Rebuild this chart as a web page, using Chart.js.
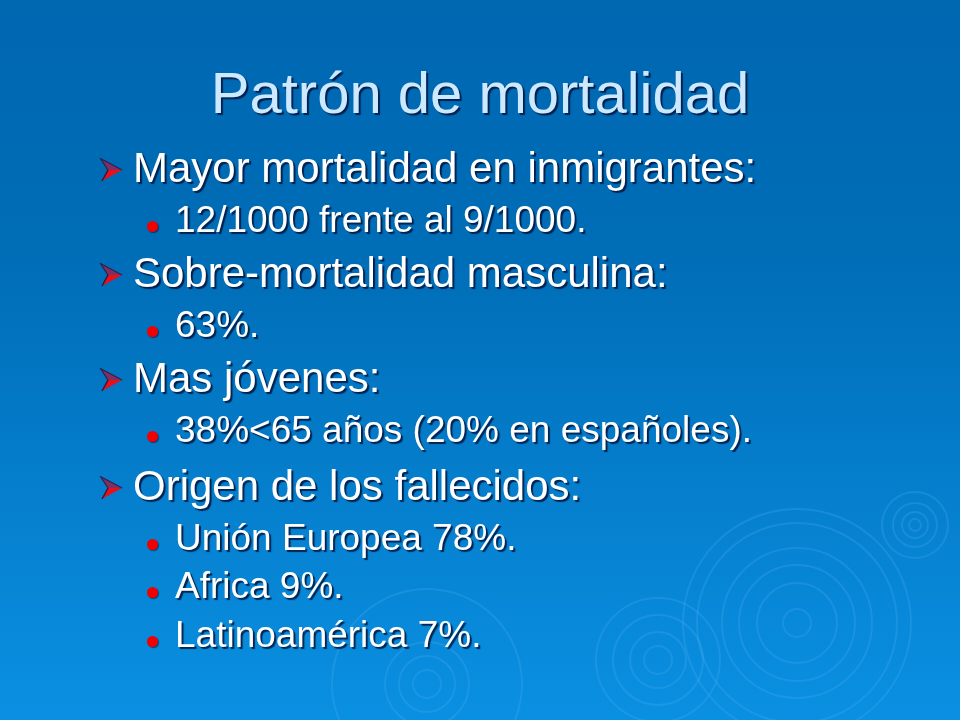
<!DOCTYPE html>
<html>
<head>
<meta charset="utf-8">
<script src="https://cdn.jsdelivr.net/npm/chart.js@4.4.1/dist/chart.umd.min.js"></script>
<style>
  html, body { margin: 0; padding: 0; }
  body { width: 960px; height: 720px; overflow: hidden; position: relative; font-family: "Liberation Sans", Arial, sans-serif; }
  #bg { position: absolute; left: 0; top: 0; width: 960px; height: 720px; }
  .txt { position: absolute; white-space: nowrap; color: #fff; line-height: 1; text-shadow: 2px 2px 1px rgba(0,20,60,0.85); }
  .title { left: 0; width: 960px; text-align: center; font-size: 58px; color: #cce9ff; }
  .l1 { left: 133px; font-size: 42px; }
  .l2 { left: 175px; font-size: 37px; }
  .arrow { position: absolute; width: 24px; height: 24px; }
  .dot { position: absolute; width: 11px; height: 11px; border-radius: 50%; background: #f00000; box-shadow: 1px 1px 1px rgba(0,20,60,0.6); }
</style>
</head>
<body>
<canvas id="bg" width="960" height="720"></canvas>
<div id="slide"></div>
<script>
// slide text
const title = "Patrón de mortalidad";
const lines = [
  { level: 1, text: "Mayor mortalidad en inmigrantes:" },
  { level: 2, text: "12/1000 frente al 9/1000." },
  { level: 1, text: "Sobre-mortalidad masculina:" },
  { level: 2, text: "63%." },
  { level: 1, text: "Mas jóvenes:" },
  { level: 2, text: "38%<65 años (20% en españoles)." },
  { level: 1, text: "Origen de los fallecidos:" },
  { level: 2, text: "Unión Europea 78%." },
  { level: 2, text: "Africa 9%." },
  { level: 2, text: "Latinoamérica 7%." }
];
const lineCenters = [168, 219, 273, 324, 378, 429, 486, 537, 585, 634];

// ripple rings in the background (centre x, centre y, radius)
const bigX = [797, 797, 797, 797, 797, 797];
const bigY = [623, 623, 623, 623, 623, 623];
const bigR = [14, 40, 58, 75, 100, 114];
const leftX = [658, 658, 658, 658];
const leftY = [660, 660, 660, 660];
const leftR = [14, 28, 45, 62];
const smallX = [915, 915, 915, 915];
const smallY = [525, 525, 525, 525];
const smallR = [6, 13, 22, 33];
const lowX = [427, 427, 427, 427];
const lowY = [684, 684, 684, 684];
const lowR = [14, 28, 42, 95];

function rings(xs, ys, rs) {
  return xs.map((x, i) => ({ x: x, y: ys[i], r: rs[i] }));
}

const slide = document.getElementById("slide");
const t = document.createElement("div");
t.className = "txt title";
t.textContent = title;
t.style.top = (92 - 58 * 0.49) + "px";
slide.appendChild(t);

lines.forEach((ln, i) => {
  const size = ln.level === 1 ? 42 : 37;
  const d = document.createElement("div");
  d.className = "txt " + (ln.level === 1 ? "l1" : "l2");
  d.textContent = ln.text;
  d.style.top = (lineCenters[i] - size * 0.49) + "px";
  slide.appendChild(d);
  if (ln.level === 1) {
    const a = document.createElementNS("http://www.w3.org/2000/svg", "svg");
    a.setAttribute("class", "arrow");
    a.setAttribute("viewBox", "0 0 24 24");
    a.style.left = "99px";
    a.style.top = (lineCenters[i] - 10) + "px";
    a.innerHTML = '<polygon points="2,1 23,12 3,23 9,12" fill="#e8101a"/>' +
      '<polyline points="3,23 9,12 2,1 23,12" fill="none" stroke="#3a1030" stroke-width="1.3"/>' +
      '<polygon points="2,1 23,12 9,12" fill="#2a4a9a" opacity="0.55"/>';
    slide.appendChild(a);
  } else {
    const b = document.createElement("div");
    b.className = "dot";
    b.style.left = "147px";
    b.style.top = (lineCenters[i] + 2) + "px";
    slide.appendChild(b);
  }
});

const backdrop = {
  id: "backdrop",
  beforeDraw(chart) {
    const c = chart.ctx;
    const g = c.createLinearGradient(0, 0, 0, chart.height);
    g.addColorStop(0, "#0067b1");
    g.addColorStop(0.35, "#006db7");
    g.addColorStop(1, "#0a90e2");
    c.save();
    c.fillStyle = g;
    c.fillRect(0, 0, chart.width, chart.height);
    c.restore();
  }
};

function ringSet(data) {
  return {
    data: data,
    backgroundColor: "rgba(0,0,0,0)",
    borderColor: "rgba(80,175,245,0.25)",
    borderWidth: 2,
    hoverRadius: 0,
    clip: false
  };
}

new Chart(document.getElementById("bg"), {
  type: "bubble",
  data: {
    datasets: [
      ringSet(rings(bigX, bigY, bigR)),
      ringSet(rings(leftX, leftY, leftR)),
      ringSet(rings(smallX, smallY, smallR)),
      ringSet(rings(lowX, lowY, lowR))
    ]
  },
  options: {
    responsive: false,
    animation: false,
    layout: { padding: 0, autoPadding: false },
    plugins: { legend: { display: false }, tooltip: { enabled: false } },
    scales: {
      x: { type: "linear", min: 0, max: 960, display: false },
      y: { type: "linear", min: 0, max: 720, reverse: true, display: false }
    }
  },
  plugins: [backdrop]
});
</script>
</body>
</html>
